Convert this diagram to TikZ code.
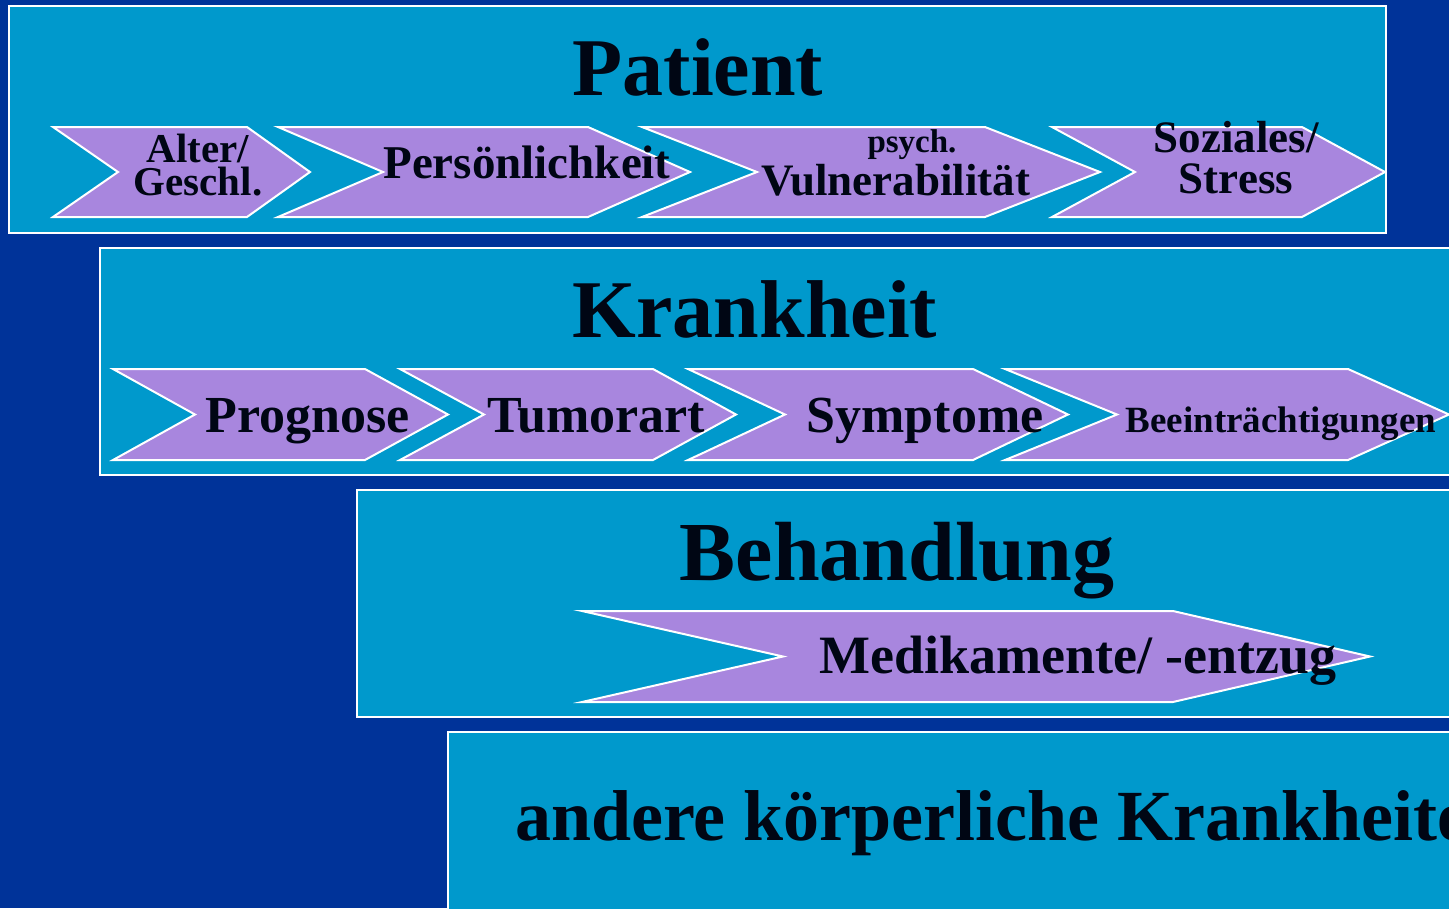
\documentclass[tikz,border=0pt]{standalone}
\usepackage{fontspec}
\setmainfont{Liberation Serif}
\definecolor{bgblue}{RGB}{0,51,153}
\definecolor{boxcyan}{RGB}{0,153,204}
\definecolor{chevlila}{RGB}{168,134,222}
\definecolor{inkdark}{RGB}{0,6,20}
\newcommand{\chev}[6]{\draw[chev] (#1,#5) -- (#3,#5) -- (#4,{(#5+#6)/2}) -- (#3,#6) -- (#1,#6) -- (#2,{(#5+#6)/2}) -- cycle;}
\newcommand{\fs}[1]{\fontsize{#1}{#1}\selectfont\bfseries}

\begin{document}
\begin{tikzpicture}[x=1pt,y=-1pt,
	box/.style={draw=white,line width=1.5pt,fill=boxcyan},
	chev/.style={draw=white,line width=2pt,fill=chevlila},
	head/.style={anchor=base,inner sep=0pt,text=inkdark,font=\fs{82}},
	lbl/.style={anchor=base,inner sep=0pt,text=inkdark}]
	\useasboundingbox (0,0) rectangle (1449,908);
	\clip (0,0) rectangle (1449,908);
	\fill[bgblue] (0,0) rectangle (1449,908);
	
	% Patient
	\draw[box] (9,6) rectangle (1386,233);
	\node[head] at (698,95)(patient){Patient};
	\chev{53}{118}{247}{310}{127}{217}
	\chev{278}{383}{588}{690}{127}{217}
	\chev{642}{757}{985}{1100}{127}{217}
	\chev{1052}{1135}{1302}{1385}{127}{217}
	\node[lbl,anchor=north,align=center,font=\fontsize{41}{33}\selectfont\bfseries] at (198,134)(alter){Alter/\\Geschl.};
	\node[lbl,font=\fs{47}] at (527,178)(pers){Persönlichkeit};
	\node[lbl,font=\fs{33}] at (912,152)(psych){psych.};
	\node[lbl,font=\fs{45}] at (896,195)(vuln){Vulnerabilität};
	\node[lbl,anchor=north,align=center,font=\fontsize{45}{41}\selectfont\bfseries] at (1236,121)(sozial){Soziales/\\Stress};
	
	% Krankheit
	\draw[box] (100,248) rectangle (1470,475);
	\node[head] at (755,337)(krankheit){Krankheit};
	\chev{113}{195}{365}{448}{369}{460}
	\chev{400}{484}{653}{736}{369}{460}
	\chev{688}{785}{973}{1068}{369}{460}
	\chev{1005}{1117}{1348}{1449}{369}{460}
	\node[lbl,font=\fs{52}] at (308,432)(prognose){Prognose};
	\node[lbl,font=\fs{52}] at (596,432)(tumor){Tumorart};
	\node[lbl,font=\fs{52}] at (925,432)(sympt){Symptome};
	\node[lbl,font=\fs{37}] at (1281,432)(beeintr){Beeinträchtigungen};
	
	% Behandlung
	\draw[box] (357,490) rectangle (1470,717);
	\node[head,font=\fs{84}] at (897,580)(behandlung){Behandlung};
	\chev{582}{783}{1173}{1370}{611}{702}
	\node[lbl,font=\fs{54}] at (1078,673)(medi){Medikamente/ -entzug};
	
	% andere
	\draw[box] (448,732) rectangle (1470,930);
	\node[lbl,anchor=base west,font=\fs{72}] at (515,840)(andere){andere körperliche Krankheiten};
\end{tikzpicture}
\end{document}
